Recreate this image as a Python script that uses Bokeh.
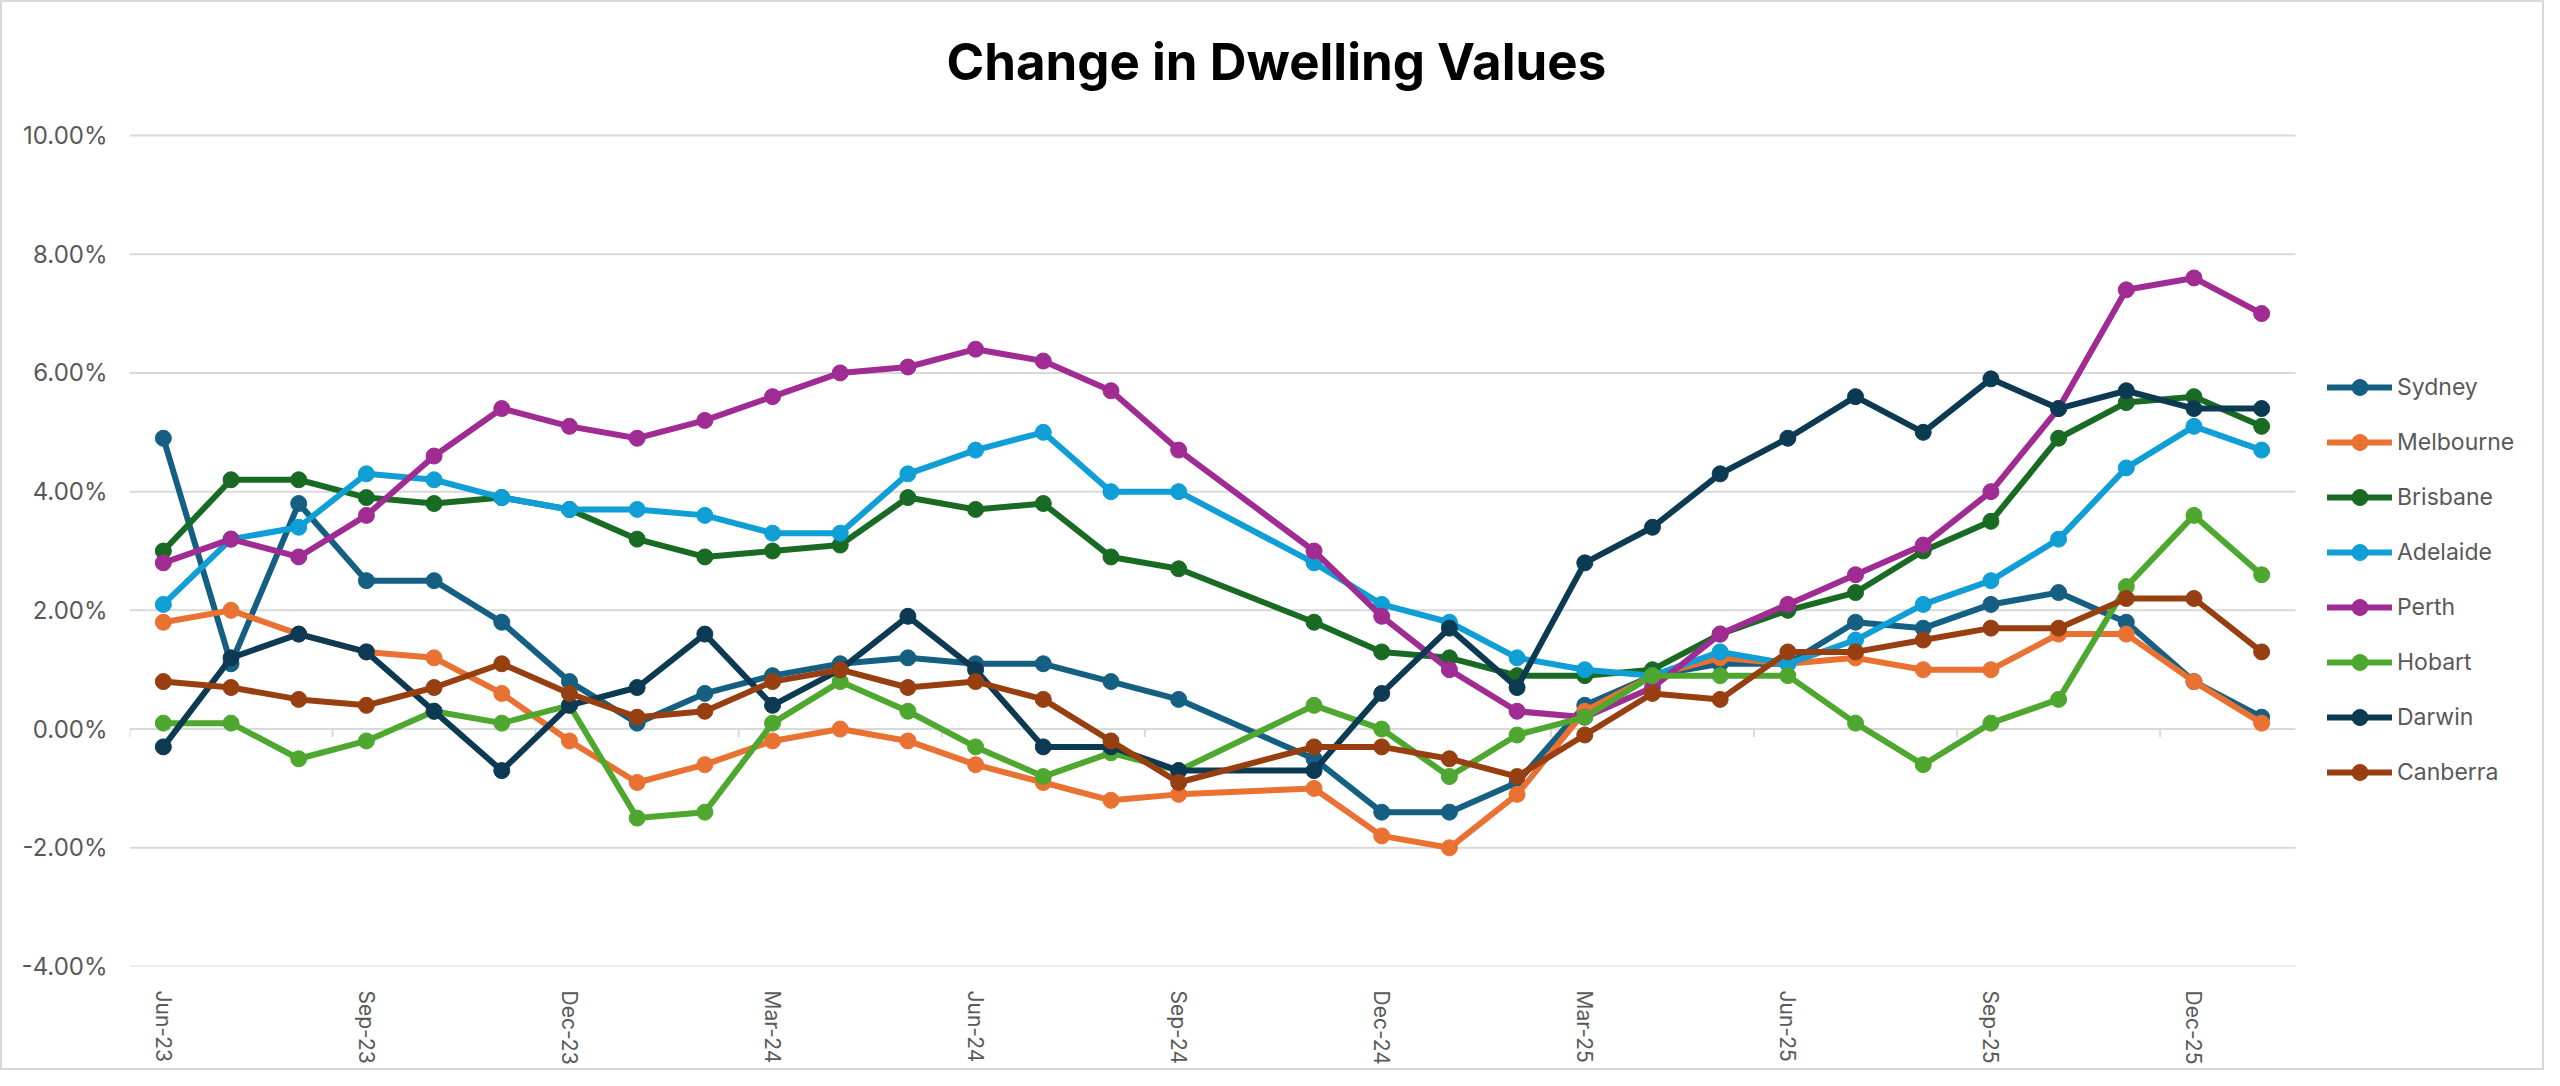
from bokeh.plotting import figure
from bokeh.models import Range1d, FixedTicker, PrintfTickFormatter, Legend, LegendItem, Label
from bokeh.embed import file_html
from bokeh.resources import INLINE

# ---------------- data ----------------
periods = ["2023-06", "2023-07", "2023-08", "2023-09", "2023-10", "2023-11", "2023-12",
           "2024-01", "2024-02", "2024-03", "2024-04", "2024-05", "2024-06", "2024-07",
           "2024-08", "2024-09", "2024-11", "2024-12", "2025-01", "2025-02", "2025-03",
           "2025-04", "2025-05", "2025-06", "2025-07", "2025-08", "2025-09", "2025-10",
           "2025-11", "2025-12", "2026-01"]

sydney = [4.9, 1.1, 3.8, 2.5, 2.5, 1.8, 0.8, 0.1, 0.6, 0.9, 1.1, 1.2, 1.1, 1.1, 0.8, 0.5,
          -0.5, -1.4, -1.4, -0.9, 0.4, 0.9, 1.1, 1.1, 1.8, 1.7, 2.1, 2.3, 1.8, 0.8, 0.2]
melbourne = [1.8, 2.0, 1.6, 1.3, 1.2, 0.6, -0.2, -0.9, -0.6, -0.2, 0.0, -0.2, -0.6, -0.9, -1.2, -1.1,
             -1.0, -1.8, -2.0, -1.1, 0.3, 0.9, 1.2, 1.1, 1.2, 1.0, 1.0, 1.6, 1.6, 0.8, 0.1]
brisbane = [3.0, 4.2, 4.2, 3.9, 3.8, 3.9, 3.7, 3.2, 2.9, 3.0, 3.1, 3.9, 3.7, 3.8, 2.9, 2.7,
            1.8, 1.3, 1.2, 0.9, 0.9, 1.0, 1.6, 2.0, 2.3, 3.0, 3.5, 4.9, 5.5, 5.6, 5.1]
adelaide = [2.1, 3.2, 3.4, 4.3, 4.2, 3.9, 3.7, 3.7, 3.6, 3.3, 3.3, 4.3, 4.7, 5.0, 4.0, 4.0,
            2.8, 2.1, 1.8, 1.2, 1.0, 0.9, 1.3, 1.1, 1.5, 2.1, 2.5, 3.2, 4.4, 5.1, 4.7]
perth = [2.8, 3.2, 2.9, 3.6, 4.6, 5.4, 5.1, 4.9, 5.2, 5.6, 6.0, 6.1, 6.4, 6.2, 5.7, 4.7,
         3.0, 1.9, 1.0, 0.3, 0.2, 0.7, 1.6, 2.1, 2.6, 3.1, 4.0, 5.4, 7.4, 7.6, 7.0]
hobart = [0.1, 0.1, -0.5, -0.2, 0.3, 0.1, 0.4, -1.5, -1.4, 0.1, 0.8, 0.3, -0.3, -0.8, -0.4, -0.7,
          0.4, 0.0, -0.8, -0.1, 0.2, 0.9, 0.9, 0.9, 0.1, -0.6, 0.1, 0.5, 2.4, 3.6, 2.6]
darwin = [-0.3, 1.2, 1.6, 1.3, 0.3, -0.7, 0.4, 0.7, 1.6, 0.4, 1.0, 1.9, 1.0, -0.3, -0.3, -0.7,
          -0.7, 0.6, 1.7, 0.7, 2.8, 3.4, 4.3, 4.9, 5.6, 5.0, 5.9, 5.4, 5.7, 5.4, 5.4]
canberra = [0.8, 0.7, 0.5, 0.4, 0.7, 1.1, 0.6, 0.2, 0.3, 0.8, 1.0, 0.7, 0.8, 0.5, -0.2, -0.9,
            -0.3, -0.3, -0.5, -0.8, -0.1, 0.6, 0.5, 1.3, 1.3, 1.5, 1.7, 1.7, 2.2, 2.2, 1.3]

series_names = ["Sydney", "Melbourne", "Brisbane", "Adelaide", "Perth", "Hobart", "Darwin", "Canberra"]
series_values = [sydney, melbourne, brisbane, adelaide, perth, hobart, darwin, canberra]
series_colors = ["#156082", "#E97132", "#196B24", "#0F9ED5", "#A02B93", "#4EA72E", "#0D3A53", "#983F12"]

tick_labels = ["Jun-23", "Sep-23", "Dec-23", "Mar-24", "Jun-24", "Sep-24", "Dec-24",
               "Mar-25", "Jun-25", "Sep-25", "Dec-25"]
y_ticks = [-4, -2, 0, 2, 4, 6, 8, 10]
title_text = "Change in Dwelling Values"

# month index on a monthly date axis (Jun-23 = 0)
def month_index(p):
    y, m = p.split("-")
    return (int(y) - 2023) * 12 + int(m) - 6

xs = [month_index(p) for p in periods]
tick_pos = [3 * i for i in range(len(tick_labels))]

FONT = "Inter"
GRAY = "#595959"
GRID = "#D9D9D9"

# layout (pixels)
W, H = 2544, 1070
B_LEFT, B_RIGHT, B_TOP, B_BOTTOM = 127, 8, 8, 106
DATA_W = 2166                       # width of the plotting area holding the data
DATA_TOP = 133                      # canvas y of the top (10%) gridline
frame_w = W - B_LEFT - B_RIGHT      # frame also hosts legend and title
frame_h = H - B_TOP - B_BOTTOM
x_start = xs[0] - 0.5
x_end_data = xs[-1] + 0.5
px_per_month = DATA_W / (x_end_data - x_start)
x_end = x_start + frame_w / px_per_month
px_per_pct = (H - B_BOTTOM - DATA_TOP) / (y_ticks[-1] - y_ticks[0])
y_end = y_ticks[-1] + (DATA_TOP - B_TOP) / px_per_pct

p = figure(width=W, height=H, output_backend="svg", toolbar_location=None,
           x_range=Range1d(x_start, x_end), y_range=Range1d(y_ticks[0], y_end),
           min_border_left=B_LEFT, min_border_right=B_RIGHT,
           min_border_top=B_TOP, min_border_bottom=B_BOTTOM)
p.outline_line_color = None
p.styles = {"border": "2px solid #D9D9D9"}

# chart title
p.add_layout(Label(x=817, y=frame_h + B_TOP - 59, x_units="screen", y_units="screen",
                   text=title_text, text_font=FONT, text_font_size="51px",
                   text_font_style="bold", text_color="#000000",
                   text_align="left", text_baseline="middle"))

# y axis
p.yaxis.ticker = FixedTicker(ticks=y_ticks)
p.yaxis.formatter = PrintfTickFormatter(format="%.2f%%")
p.yaxis.axis_line_color = None
p.yaxis.major_tick_line_color = None
p.yaxis.minor_tick_line_color = None
p.yaxis.major_label_text_font = FONT
p.yaxis.major_label_text_font_size = "24px"
p.yaxis.major_label_text_color = GRAY
p.yaxis.major_label_standoff = 16
p.xgrid.grid_line_color = None
p.ygrid.grid_line_color = None

# horizontal gridlines limited to the data area
p.segment(x0=[x_start] * len(y_ticks), x1=[x_end_data] * len(y_ticks), y0=y_ticks, y1=y_ticks,
          line_color=GRID, line_width=2)
# small tick marks below the horizontal axis line (at 0%), between categories
bounds = [t - 0.5 for t in tick_pos]
p.segment(x0=bounds, x1=bounds, y0=[0] * len(bounds), y1=[-8 / px_per_pct] * len(bounds),
          line_color=GRID, line_width=2)

# x axis labels (low position)
p.xaxis.ticker = FixedTicker(ticks=tick_pos)
p.xaxis.major_label_overrides = {t: l for t, l in zip(tick_pos, tick_labels)}
p.xaxis.major_label_orientation = "vertical"
p.xaxis.axis_line_color = None
p.xaxis.major_tick_line_color = None
p.xaxis.minor_tick_line_color = None
p.xaxis.major_label_text_font = FONT
p.xaxis.major_label_text_font_size = "21px"
p.xaxis.major_label_text_color = GRAY
p.xaxis.major_label_standoff = 18

items = []
for name, vals, col in zip(series_names, series_values, series_colors):
    r1 = p.line(xs, vals, line_color=col, line_width=6, line_join="round", line_cap="round")
    r2 = p.scatter(xs, vals, size=16, fill_color=col, line_color=col, line_width=1)
    items.append(LegendItem(label=name, renderers=[r1, r2]))

legend = Legend(items=items, location=(DATA_W + 32, 174))
legend.padding = 0
legend.margin = 0
legend.border_line_color = None
legend.background_fill_alpha = 0
legend.glyph_width = 65
legend.glyph_height = 40
legend.label_height = 40
legend.spacing = 15
legend.label_standoff = 5
legend.label_text_font = FONT
legend.label_text_font_size = "23px"
legend.label_text_color = GRAY
p.add_layout(legend, "center")

open("out.html", "w").write(file_html(p, INLINE))
